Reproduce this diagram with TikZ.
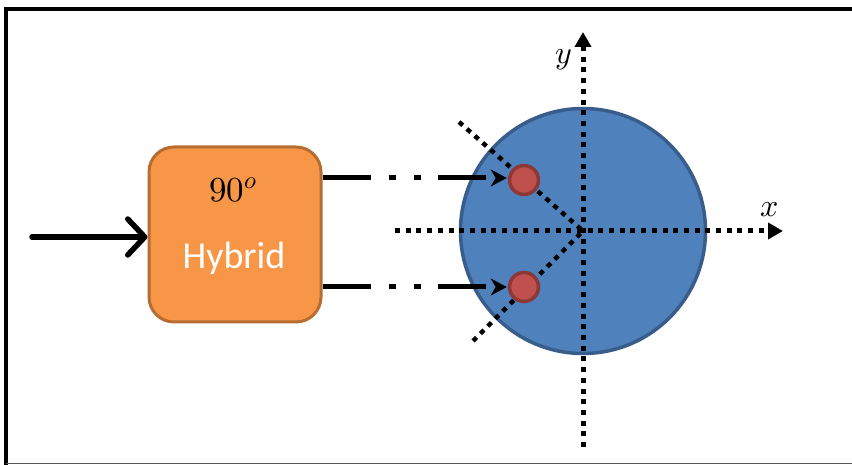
\documentclass[tikz,border=0pt]{standalone}
\usepackage{fontspec}
\usepackage{unicode-math}
\setmainfont{Carlito}
\setmathfont{Latin Modern Math}
\usetikzlibrary{arrows.meta}
\definecolor{boxfill}{HTML}{F79646}
\definecolor{boxline}{HTML}{B66D31}
\definecolor{diskfill}{HTML}{4F81BD}
\definecolor{diskline}{HTML}{385D8A}
\definecolor{dotfill}{HTML}{C0504D}
\definecolor{dotline}{HTML}{8C3836}
\tikzset{
  framebar/.style={line width=4pt, black},
  hybridbox/.style={draw=boxline, fill=boxfill, line width=3pt, rounded corners=25pt,
    minimum width=172pt, minimum height=175pt, inner sep=0pt},
  diskstyle/.style={circle, draw=diskline, fill=diskfill, line width=3.5pt,
    minimum size=245pt, inner sep=0pt},
  spot/.style={circle, draw=dotline, fill=dotfill, line width=3.5pt,
    minimum size=29pt, inner sep=0pt},
  axisline/.style={line width=5pt, dash pattern=on 5pt off 5.7pt,
    -{Triangle[length=15pt,width=16pt]}},
  diagline/.style={line width=4.5pt, dash pattern=on 5pt off 5.5pt},
  signal/.style={line width=5pt, dash pattern=on 48pt off 18pt on 7pt off 18pt on 7pt off 17pt on 48pt off 200pt,
    -{Stealth[length=16pt,width=17pt,inset=5pt]}, shorten >=1pt},
  inarrow/.style={line width=5.5pt, line cap=round,
    -{Straight Barb[length=17pt,width=36pt,line cap=round,line join=round]}},
}
\begin{document}
\begin{tikzpicture}[x=1pt,y=-1pt]
  \useasboundingbox (0,0) rectangle (852,465);
  % page frame
  \draw[framebar] (6,465) -- (6,9.5) -- (852,9.5);
  \draw[line width=1.5pt, black!65] (6,463.5) -- (852,463.5);

  % 90 degree hybrid block
  \node[hybridbox] (hyb) at (235,234.5) {};
  \node (deg) at (233,190) {\fontsize{35}{40}\selectfont $90^{o}$};
  \node[text=white] (lbl) at (234,258) {\fontsize{38}{44}\selectfont Hybrid};

  % input
  \coordinate (in) at (32,237);
  \draw[inarrow] (in) -- (hyb.west |- in);

  % constellation disk and axes
  \node[diskstyle] (disk) at (583,231) {};
  \coordinate (o) at (583,231);
  \coordinate (xs) at (395,231);
  \coordinate (xe) at (783,231);
  \coordinate (ys) at (583,447);
  \coordinate (ye) at (583,32);
  \coordinate (d1) at (459,122);
  \coordinate (d2) at (473,341);
  \draw[axisline] (xs) -- (xe);
  \draw[axisline] (ys) -- (ye);
  \draw[diagline] (d1) -- (o);
  \draw[diagline] (d2) -- (o);
  \node (xl) at (770,210) {\fontsize{32}{34}\selectfont $x$};
  \node (yl) at (564,60) {\fontsize{32}{34}\selectfont $y$};

  % output points
  \node[spot] (p1) at (524,180) {};
  \node[spot] (p2) at (524,287) {};
  \draw[signal] (hyb.east |- 0,178) -- (p1.west |- 0,178);
  \draw[signal] (hyb.east |- 0,287) -- (p2.west);
\end{tikzpicture}
\end{document}
